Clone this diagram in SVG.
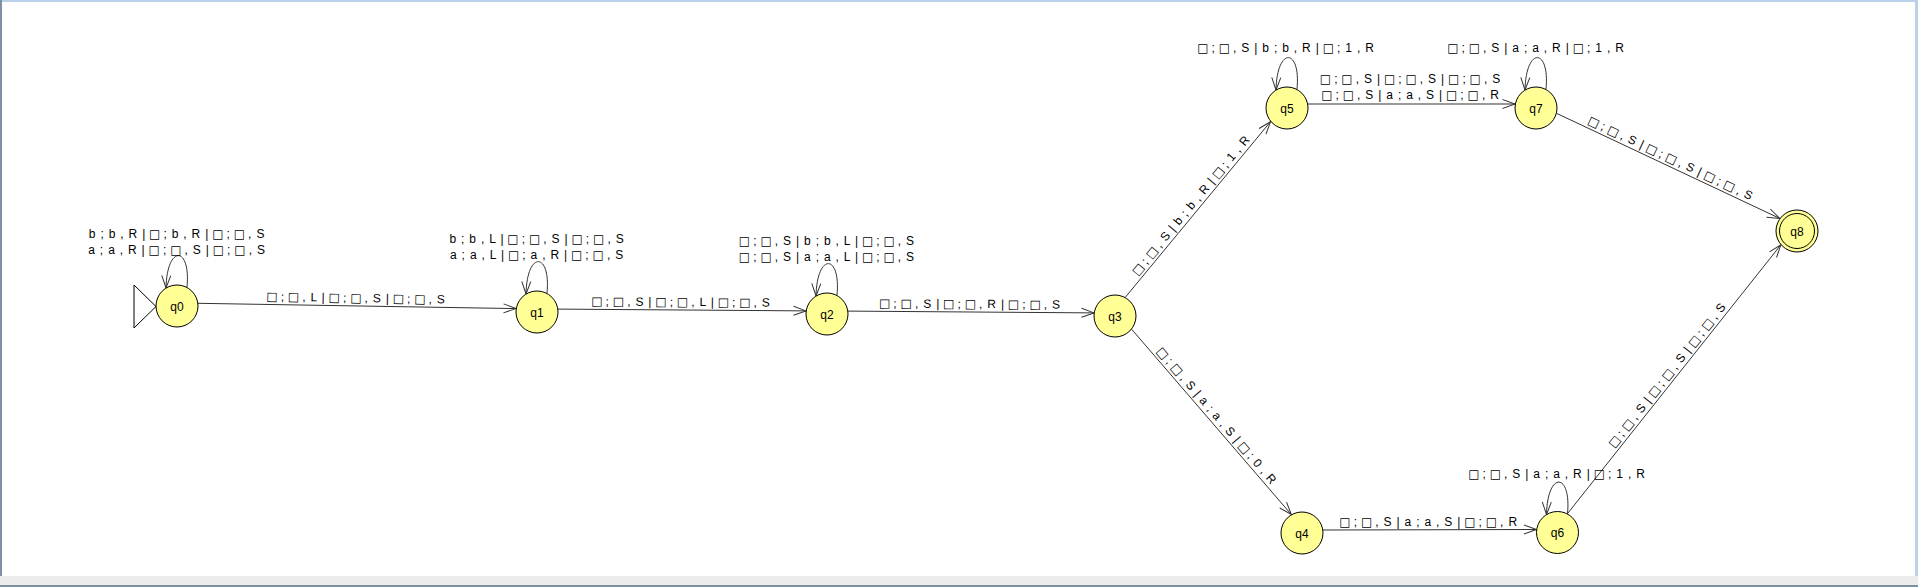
<svg xmlns="http://www.w3.org/2000/svg" width="1918" height="587" viewBox="0 0 1918 587">
<style>
.st{fill:#ffff96;stroke:#000;stroke-width:1}
.nl{font-family:"Liberation Sans",Arial,sans-serif;font-size:12px;text-anchor:middle;fill:#000}
.lb{font-family:"Liberation Sans",Arial,sans-serif;font-size:12px;text-anchor:middle;fill:#000;letter-spacing:0.8px}
.b{font-family:"DejaVu Sans",sans-serif;font-size:12px;letter-spacing:-1.1px}
.ed{fill:none;stroke:#333;stroke-width:1}
</style>
<defs>
<marker id="arr" markerUnits="userSpaceOnUse" markerWidth="16" markerHeight="12" refX="14" refY="6" orient="auto">
<path d="M1.5,1.5 L14,6 L1.5,10.5" fill="none" stroke="#333" stroke-width="1"/>
</marker>
<pattern id="dots" x="0" y="0" width="3" height="3" patternUnits="userSpaceOnUse">
<rect x="1" y="0" width="1" height="1" fill="#8a9ab0"/>
</pattern>
</defs>
<rect x="0" y="0" width="1918" height="587" fill="#fff"/>
<g id="frame">
<rect x="0" y="0" width="1918" height="2" fill="#b9d1ea"/>
<rect x="0" y="0" width="2" height="577" fill="#7d90a6"/>
<rect x="1915" y="0" width="3" height="577" fill="#b9d1ea"/>
<rect x="0" y="576" width="1918" height="9" fill="#ececec"/>
<rect x="0" y="580" width="1910" height="1" fill="url(#dots)"/>
<rect x="0" y="585" width="1918" height="2" fill="#7f8fa3"/>
</g>
<g id="connectors">
<path class="ed" marker-end="url(#arr)" d="M198,303.3 L516,308.6"/>
<text class="lb" transform="translate(357,306) rotate(0.95)" x="0" y="-4"><tspan class="b" dx="-1.1">□</tspan> ; <tspan class="b" dx="-1.1">□</tspan> , L | <tspan class="b" dx="-1.1">□</tspan> ; <tspan class="b" dx="-1.1">□</tspan> , S | <tspan class="b" dx="-1.1">□</tspan> ; <tspan class="b" dx="-1.1">□</tspan> , S</text>
<path class="ed" marker-end="url(#arr)" d="M558,309.1 L806,310.9"/>
<text class="lb" transform="translate(682,310) rotate(0.4)" x="0" y="-4"><tspan class="b" dx="-1.1">□</tspan> ; <tspan class="b" dx="-1.1">□</tspan> , S | <tspan class="b" dx="-1.1">□</tspan> ; <tspan class="b" dx="-1.1">□</tspan> , L | <tspan class="b" dx="-1.1">□</tspan> ; <tspan class="b" dx="-1.1">□</tspan> , S</text>
<path class="ed" marker-end="url(#arr)" d="M848,311.1 L1094,312.9"/>
<text class="lb" transform="translate(971,312) rotate(0.4)" x="0" y="-4"><tspan class="b" dx="-1.1">□</tspan> ; <tspan class="b" dx="-1.1">□</tspan> , S | <tspan class="b" dx="-1.1">□</tspan> ; <tspan class="b" dx="-1.1">□</tspan> , R | <tspan class="b" dx="-1.1">□</tspan> ; <tspan class="b" dx="-1.1">□</tspan> , S</text>
<path class="ed" marker-end="url(#arr)" d="M1125.3,297.3 L1270.5,121.7"/>
<text class="lb" transform="translate(1197.9,209.5) rotate(-50.41)" x="0" y="-4"><tspan class="b" dx="-1.1">□</tspan> ; <tspan class="b" dx="-1.1">□</tspan> , S | b ; b , R | <tspan class="b" dx="-1.1">□</tspan> ; 1 , R</text>
<path class="ed" marker-end="url(#arr)" d="M1131.7,329.3 L1291.3,514.5"/>
<text class="lb" transform="translate(1211.5,421.9) rotate(49.25)" x="0" y="-4"><tspan class="b" dx="-1.1">□</tspan> ; <tspan class="b" dx="-1.1">□</tspan> , S | a ; a , S | <tspan class="b" dx="-1.1">□</tspan> ; 0 , R</text>
<path class="ed" marker-end="url(#arr)" d="M1308,104 L1515,104"/>
<text class="lb" x="1411.5" y="83"><tspan class="b" dx="-1.1">□</tspan> ; <tspan class="b" dx="-1.1">□</tspan> , S | <tspan class="b" dx="-1.1">□</tspan> ; <tspan class="b" dx="-1.1">□</tspan> , S | <tspan class="b" dx="-1.1">□</tspan> ; <tspan class="b" dx="-1.1">□</tspan> , S</text>
<text class="lb" x="1411.5" y="99"><tspan class="b" dx="-1.1">□</tspan> ; <tspan class="b" dx="-1.1">□</tspan> , S | a ; a , S | <tspan class="b" dx="-1.1">□</tspan> ; <tspan class="b" dx="-1.1">□</tspan> , R</text>
<path class="ed" marker-end="url(#arr)" d="M1323,530 L1536.5,529.5"/>
<text class="lb" x="1429.7" y="526"><tspan class="b" dx="-1.1">□</tspan> ; <tspan class="b" dx="-1.1">□</tspan> , S | a ; a , S | <tspan class="b" dx="-1.1">□</tspan> ; <tspan class="b" dx="-1.1">□</tspan> , R</text>
<path class="ed" marker-end="url(#arr)" d="M1556.7,113.4 L1779.7,218.4"/>
<text class="lb" transform="translate(1668.2,165.9) rotate(25.23)" x="0" y="-4"><tspan class="b" dx="-1.1">□</tspan> ; <tspan class="b" dx="-1.1">□</tspan> , S | <tspan class="b" dx="-1.1">□</tspan> ; <tspan class="b" dx="-1.1">□</tspan> , S | <tspan class="b" dx="-1.1">□</tspan> ; <tspan class="b" dx="-1.1">□</tspan> , S</text>
<path class="ed" marker-end="url(#arr)" d="M1567.5,513.6 L1780.8,244.9"/>
<text class="lb" transform="translate(1674.1,379.2) rotate(-51.54)" x="0" y="-4"><tspan class="b" dx="-1.1">□</tspan> ; <tspan class="b" dx="-1.1">□</tspan> , S | <tspan class="b" dx="-1.1">□</tspan> ; <tspan class="b" dx="-1.1">□</tspan> , S | <tspan class="b" dx="-1.1">□</tspan> ; <tspan class="b" dx="-1.1">□</tspan> , S</text>
<path class="ed" marker-end="url(#arr)" d="M187,287 C191,246 167,244 166,288"/>
<path class="ed" marker-end="url(#arr)" d="M547,293 C551,252 527,250 526,294"/>
<path class="ed" marker-end="url(#arr)" d="M837,295 C841,254 817,252 816,296"/>
<path class="ed" marker-end="url(#arr)" d="M1297,89 C1301,48 1277,46 1276,90"/>
<path class="ed" marker-end="url(#arr)" d="M1546,89 C1550,48 1526,46 1525,90"/>
<path class="ed" marker-end="url(#arr)" d="M1567.5,513.5 C1571.5,472.5 1547.5,470.5 1546.5,514.5"/>
<text class="lb" x="177" y="238">b ; b , R | <tspan class="b" dx="-1.1">□</tspan> ; b , R | <tspan class="b" dx="-1.1">□</tspan> ; <tspan class="b" dx="-1.1">□</tspan> , S</text>
<text class="lb" x="177" y="254">a ; a , R | <tspan class="b" dx="-1.1">□</tspan> ; <tspan class="b" dx="-1.1">□</tspan> , S | <tspan class="b" dx="-1.1">□</tspan> ; <tspan class="b" dx="-1.1">□</tspan> , S</text>
<text class="lb" x="537" y="243">b ; b , L | <tspan class="b" dx="-1.1">□</tspan> ; <tspan class="b" dx="-1.1">□</tspan> , S | <tspan class="b" dx="-1.1">□</tspan> ; <tspan class="b" dx="-1.1">□</tspan> , S</text>
<text class="lb" x="537" y="259">a ; a , L | <tspan class="b" dx="-1.1">□</tspan> ; a , R | <tspan class="b" dx="-1.1">□</tspan> ; <tspan class="b" dx="-1.1">□</tspan> , S</text>
<text class="lb" x="828" y="245"><tspan class="b" dx="-1.1">□</tspan> ; <tspan class="b" dx="-1.1">□</tspan> , S | b ; b , L | <tspan class="b" dx="-1.1">□</tspan> ; <tspan class="b" dx="-1.1">□</tspan> , S</text>
<text class="lb" x="828" y="261"><tspan class="b" dx="-1.1">□</tspan> ; <tspan class="b" dx="-1.1">□</tspan> , S | a ; a , L | <tspan class="b" dx="-1.1">□</tspan> ; <tspan class="b" dx="-1.1">□</tspan> , S</text>
<text class="lb" x="1287" y="52"><tspan class="b" dx="-1.1">□</tspan> ; <tspan class="b" dx="-1.1">□</tspan> , S | b ; b , R | <tspan class="b" dx="-1.1">□</tspan> ; 1 , R</text>
<text class="lb" x="1537" y="52"><tspan class="b" dx="-1.1">□</tspan> ; <tspan class="b" dx="-1.1">□</tspan> , S | a ; a , R | <tspan class="b" dx="-1.1">□</tspan> ; 1 , R</text>
<text class="lb" x="1558" y="478"><tspan class="b" dx="-1.1">□</tspan> ; <tspan class="b" dx="-1.1">□</tspan> , S | a ; a , R | <tspan class="b" dx="-1.1">□</tspan> ; 1 , R</text>
</g>
<g id="q0">
<polygon points="134,285 134,328 156,306.5" fill="#fff" stroke="#000" stroke-width="1"/>
<circle class="st" cx="177" cy="306" r="21"/>
<text class="nl" x="177" y="310.5">q0</text>
</g>
<g id="q1"><circle class="st" cx="537" cy="312" r="21"/><text class="nl" x="537" y="316.5">q1</text></g>
<g id="q2"><circle class="st" cx="827" cy="314" r="21"/><text class="nl" x="827" y="318.5">q2</text></g>
<g id="q3"><circle class="st" cx="1115" cy="316" r="21"/><text class="nl" x="1115" y="320.5">q3</text></g>
<g id="q4"><circle class="st" cx="1302" cy="533" r="21"/><text class="nl" x="1302" y="537.5">q4</text></g>
<g id="q5"><circle class="st" cx="1287" cy="108" r="21"/><text class="nl" x="1287" y="112.5">q5</text></g>
<g id="q6"><circle class="st" cx="1557.5" cy="532.5" r="21"/><text class="nl" x="1557.5" y="537">q6</text></g>
<g id="q7"><circle class="st" cx="1536" cy="108" r="21"/><text class="nl" x="1536" y="112.5">q7</text></g>
<g id="q8"><circle class="st" cx="1797" cy="231" r="21"/><circle cx="1797" cy="231" r="17.5" fill="none" stroke="#000" stroke-width="1"/><text class="nl" x="1797" y="235.5">q8</text></g>
</svg>
